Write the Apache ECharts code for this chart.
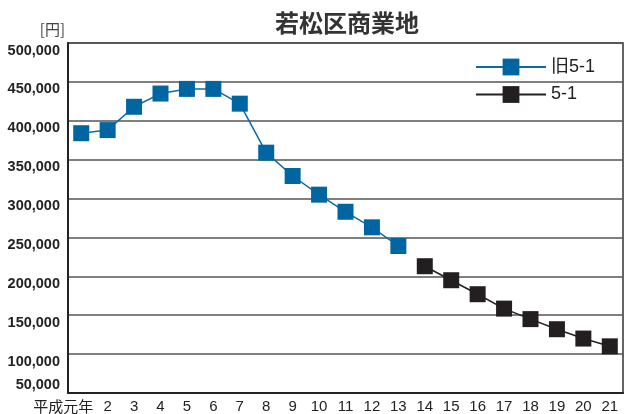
<!DOCTYPE html>
<html>
<head>
<meta charset="utf-8">
<script src="https://cdn.jsdelivr.net/npm/echarts@6/dist/echarts.min.js"></script>
<style>
  html, body { margin: 0; padding: 0; background: #fff; }
  #chart { width: 632px; height: 414px; }
</style>
</head>
<body>
<div id="chart"></div>
<script>
// 若松区商業地の地価推移（平成元年〜21年）
const years = ['平成元年', '2', '3', '4', '5', '6', '7', '8', '9', '10', '11',
  '12', '13', '14', '15', '16', '17', '18', '19', '20', '21'];

// 旧5-1 地点（平成元年〜13年）
const oldPoint = [384000, 388000, 418000, 435000, 441000, 441000, 422000,
  359000, 329000, 305000, 283000, 263000, 239000,
  null, null, null, null, null, null, null, null];

// 5-1 地点（平成14年〜21年）
const newPoint = [null, null, null, null, null, null, null, null, null, null,
  null, null, null,
  213000, 195000, 177000, 158500, 145000, 132000, 120000, 110000];

const yMin = 50000, yMax = 500000, yStep = 50000;

const fmt = v => v.toLocaleString('en-US');
const numFont = "'Liberation Sans', Arial, sans-serif";
const jpFont = "'Noto Sans CJK JP', 'Noto Sans', sans-serif";

const chart = echarts.init(document.getElementById('chart'), null, { renderer: 'canvas' });

chart.setOption({
  animation: false,
  backgroundColor: '#ffffff',
  title: {
    text: '若松区商業地',
    left: 270,
    top: 6,
    textStyle: { fontFamily: jpFont, fontSize: 24, fontWeight: 'bold', color: '#333' }
  },
  legend: {
    orient: 'vertical',
    left: 470,
    top: 53,
    itemWidth: 70,
    itemHeight: 21,
    itemGap: 9.5,
    textStyle: { fontFamily: "'Liberation Sans', Arial, " + jpFont, fontSize: 18, color: '#222' },
    data: ['旧5-1', '5-1']
  },
  grid: {
    left: 68, right: 9, top: 43, bottom: 20,
    show: true, borderColor: '#333', borderWidth: 1.5,
    containLabel: false
  },
  xAxis: {
    type: 'category',
    data: years,
    boundaryGap: true,
    axisLine: { lineStyle: { color: '#222', width: 2 } },
    axisTick: { inside: true, length: 8, interval: 0, lineStyle: { color: '#222', width: 1.5 } },
    axisLabel: {
      interval: 0,
      margin: 6,
      fontFamily: "'Liberation Sans', Arial, sans-serif",
      fontSize: 15,
      color: '#222',
      formatter: v => v === '平成元年' ? '{f|' + v + '}' : v,
      rich: { f: { fontFamily: jpFont, fontSize: 15, color: '#222', padding: [0, 36, 0, 0] } }
    },
    splitLine: { show: false }
  },
  yAxis: [
    {
      type: 'value',
      min: yMin, max: yMax, interval: yStep,
      name: '[円]',
      nameLocation: 'end',
      nameGap: 0,
      nameTextStyle: {
        fontFamily: jpFont, fontSize: 15, color: '#444',
        align: 'right', verticalAlign: 'bottom', padding: [0, 3, 6, 0]
      },
      axisLine: { show: true, lineStyle: { color: '#222', width: 2 } },
      axisTick: { show: false },
      axisLabel: {
        margin: 8,
        fontFamily: numFont, fontSize: 14.5, fontWeight: 'bold', color: '#222',
        verticalAlign: 'top',
        formatter: v => v === yMin ? '' : fmt(v)
      },
      splitLine: { lineStyle: { color: '#555', width: 1.5 } }
    },
    {
      // bottom value label sits just above the axis line
      type: 'value',
      position: 'left',
      min: yMin, max: yMax, interval: yStep,
      axisLine: { show: false },
      axisTick: { show: false },
      splitLine: { show: false },
      axisLabel: {
        margin: 8,
        fontFamily: numFont, fontSize: 14.5, fontWeight: 'bold', color: '#222',
        verticalAlign: 'bottom',
        formatter: v => v === yMin ? fmt(v) : ''
      }
    }
  ],
  series: [
    {
      name: '旧5-1',
      type: 'line',
      data: oldPoint,
      symbol: 'rect',
      symbolSize: 16,
      connectNulls: false,
      lineStyle: { color: '#0b6aa4', width: 1.5 },
      itemStyle: { color: '#0065a0' }
    },
    {
      name: '5-1',
      type: 'line',
      data: newPoint,
      symbol: 'rect',
      symbolSize: 16,
      connectNulls: false,
      lineStyle: { color: '#231f20', width: 1.5 },
      itemStyle: { color: '#231f20' }
    }
  ]
});
</script>
</body>
</html>
